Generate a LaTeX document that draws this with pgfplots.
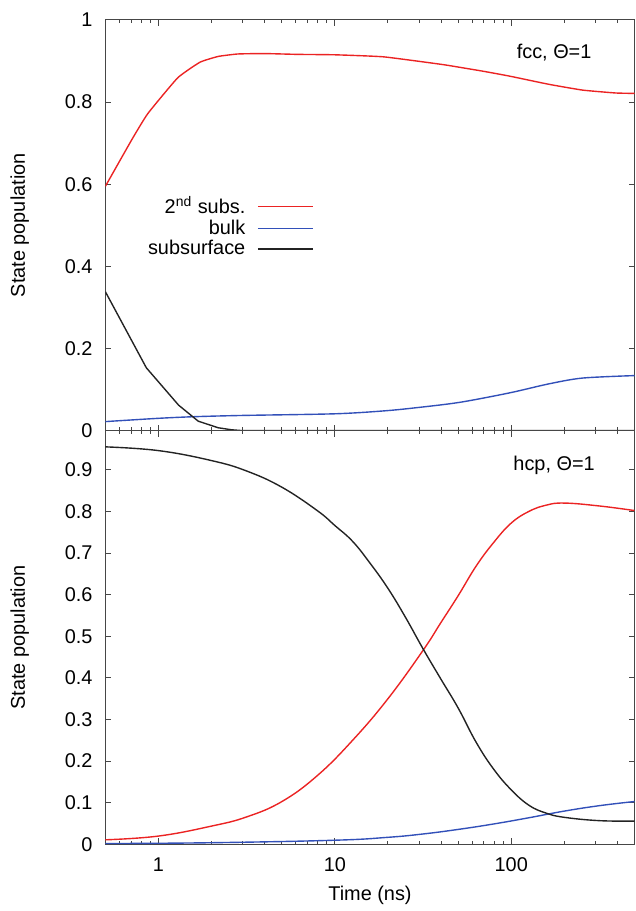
\documentclass[border=0pt]{standalone}
\usepackage{fontspec}
\setmainfont{Liberation Sans}
\usepackage{pgfplots}
\pgfplotsset{compat=1.18}

\definecolor{cred}{RGB}{235,35,35}
\definecolor{cblue}{RGB}{50,80,185}
\definecolor{cblack}{RGB}{35,35,35}
\definecolor{axgray}{RGB}{70,70,70}

\pgfplotsset{
  every axis/.append style={
    width=266pt, scale only axis,
    xmin=0.5, xmax=500,
    xtick={1,10,100},
    minor xtick={0.6,0.7,0.8,0.9,2,3,4,5,6,7,8,9,20,30,40,50,60,70,80,90,200,300,400},
    log ticks with fixed point,
    tick align=inside, xtick pos=both, ytick pos=both,
    major tick length=3pt, minor tick length=1.8pt,
    axis line style={axgray, line width=0.5pt},
    every tick/.style={axgray, line width=0.5pt},
    /pgf/number format/assume math mode=true,
    yticklabel style={/pgf/number format/fixed, xshift=-3pt},
    xticklabel style={yshift=-3pt},
    ylabel={State population},
    every axis y label/.style={at={(axis description cs:-0.162,0.5)}, rotate=90, anchor=center},
  },
  every axis plot/.append style={line width=0.7pt},
}

\begin{document}
\begin{tikzpicture}
  % upper panel: fcc
  \begin{semilogxaxis}[name=top,
    height=206.5pt,
    ymin=0, ymax=1,
    ytick={0,0.2,0.4,0.6,0.8,1},
    xticklabel=\empty,
    legend plot pos=right,
    legend cell align=right,
    legend image code/.code={\path (0pt,0pt); \draw[#1, line width=0.7pt] (4pt,0pt) -- (31.5pt,0pt);},
    legend style={draw=none, fill=none, at={(0.405,0.591)}, anchor=north east, row sep=-2.4pt}
  ]
  \addplot[cred, smooth, tension=0.25] coordinates {
    (0.5,0.595) (0.707,0.709) (0.87,0.772) (1.285,0.859) (1.72,0.897) (2.18,0.911)
    (2.82,0.917) (3.99,0.918) (6.15,0.916) (10,0.915) (18.9,0.910) (41.2,0.891)
    (69.2,0.875) (98,0.863) (164,0.843) (254,0.829) (391,0.822) (500,0.821)
  };
  \addlegendentry{2\textsuperscript{nd} subs.}
  \addplot[cblue, smooth] coordinates {
    (0.5,0.022) (1,0.030) (1.61,0.034) (3,0.037) (10,0.041) (18.9,0.048) (29.2,0.056)
    (51.2,0.069) (98,0.092) (164,0.114) (254,0.128) (500,0.134)
  };
  \addlegendentry{bulk}
  \addplot[cblack] coordinates {
    (0.5,0.338) (0.853,0.153) (1.30,0.062) (1.68,0.023) (2.18,0.007) (2.6,0.002)
    (3,0) (500,0)
  };
  \addlegendentry{subsurface}
  \node at (rel axis cs:0.848,0.920) {fcc, Θ=1};
  \end{semilogxaxis}

  % lower panel: hcp
  \begin{semilogxaxis}[name=bot,
    at={(top.south west)}, anchor=north west,
    height=208pt,
    ymin=0, ymax=0.994,
    ytick={0,0.1,0.2,0.3,0.4,0.5,0.6,0.7,0.8,0.9},
    xlabel={Time (ns)},
    every axis x label/.style={at={(axis description cs:0.5,-0.1226)}, anchor=center}
  ]
  \addplot[cred, smooth, tension=0.7] coordinates {
    (0.5,0.011) (1,0.020) (2,0.044) (3.16,0.066) (5.01,0.103) (7.94,0.165)
    (12.6,0.250) (20,0.350) (31.6,0.466) (39.8,0.532) (50.1,0.598) (63.1,0.668)
    (79.4,0.725) (100,0.772) (126,0.800) (158,0.815) (200,0.820) (316,0.813) (500,0.802)
  };
  \addplot[cblue, smooth, tension=0.7] coordinates {
    (0.5,0.002) (2,0.004) (10,0.010) (20,0.017) (31.6,0.025) (50.1,0.036)
    (79.4,0.049) (126,0.064) (200,0.080) (316,0.093) (500,0.103)
  };
  \addplot[cblack, smooth, tension=0.7] coordinates {
    (0.5,0.955) (1,0.946) (2,0.922) (3.16,0.897) (5.01,0.858) (7.94,0.802)
    (10,0.766) (12.6,0.728) (15.8,0.676) (20,0.615) (25.1,0.546) (31.6,0.470)
    (39.8,0.398) (50.1,0.327) (63.1,0.246) (79.4,0.181) (100,0.131) (126,0.094)
    (158,0.075) (200,0.065) (316,0.057) (500,0.056)
  };
  \node at (rel axis cs:0.848,0.916) {hcp, Θ=1};
  \end{semilogxaxis}

  \path ([xshift=-53pt,yshift=10pt]top.north west) rectangle ([xshift=0.5pt,yshift=-31pt]bot.south east);
\end{tikzpicture}
\end{document}
